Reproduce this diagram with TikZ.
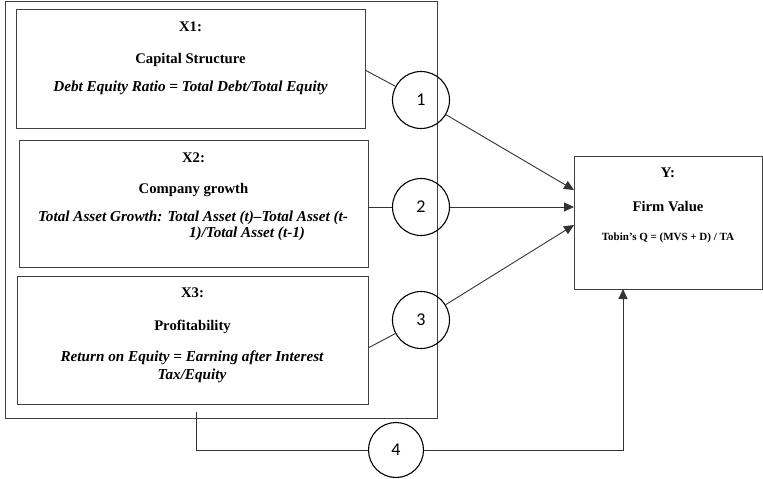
\documentclass[tikz,border=0pt]{standalone}
\usepackage{fontspec}
\setmainfont{Liberation Serif}
\newfontfamily\numfont{Carlito}
\usetikzlibrary{arrows.meta}
\begin{document}
\begin{tikzpicture}[x=1pt,y=-1pt,
  box/.style={draw=black!75,line width=0.9pt,rectangle,inner sep=0pt},
  num/.style={draw=black,line width=1.1pt,circle,minimum size=57pt,inner sep=0pt,font=\numfont\fontsize{18}{20}\selectfont},
  ttl/.style={font=\fontsize{14.7}{17}\selectfont\bfseries},
  frm/.style={font=\fontsize{15.2}{17}\selectfont\bfseries\itshape},
  lnk/.style={draw=black!80,line width=0.9pt},
  arr/.style={lnk,-{Triangle[length=10pt,width=9pt]}}]
\useasboundingbox (0,0) rectangle (763,479);
% outer frame
\node[box,minimum width=432pt,minimum height=417pt] (outer) at (221,209.5) {};
% X boxes
\node[box,minimum width=349pt,minimum height=119pt] (x1) at (190.5,68.5) {};
\node[box,minimum width=349pt,minimum height=127pt] (x2) at (193.5,203.5) {};
\node[box,minimum width=351pt,minimum height=128pt] (x3) at (192.5,340) {};
\node[box,minimum width=188pt,minimum height=133pt] (y) at (668,222.5) {};
% texts X1
\node[ttl] (t1a) at (190.5,27) {X1:};
\node[ttl] (t1b) at (190.5,60) {Capital Structure};
\node[frm] (t1c) at (190.5,88) {Debt Equity Ratio = Total Debt/Total Equity};
% texts X2
\node[ttl] (t2a) at (193.5,158) {X2:};
\node[ttl] (t2b) at (193.5,190) {Company growth};
\node[frm] (t2c) at (193,218) {Total Asset Growth: Total Asset (t)–Total Asset (t-};
\node[frm] (t2d) at (247,234) {1)/Total Asset (t-1)};
% texts X3
\node[ttl] (t3a) at (192.5,293) {X3:};
\node[ttl] (t3b) at (192.5,327) {Profitability};
\node[frm] (t3c) at (192,358) {Return on Equity = Earning after Interest};
\node[frm] (t3d) at (192,376) {Tax/Equity};
% texts Y
\node[ttl] (tya) at (668,173) {Y:};
\node[ttl] (tyb) at (668,207) {Firm Value};
\node[font=\fontsize{11}{13}\selectfont\bfseries] (tyc) at (668,238) {Tobin’s Q = (MVS + D) / TA};
% circles
\node[num] (c1) at (421,100) {1};
\node[num] (c2) at (421,207) {2};
\node[num] (c3) at (421,320) {3};
\node[num,minimum size=55pt] (c4) at (396,450) {4};
% connector end points
\coordinate (a1) at (365,70);
\coordinate (a2) at (368,207);
\coordinate (a3) at (368,348);
\coordinate (a4) at (196,412);
\coordinate (y1) at (574,190);
\coordinate (y2) at (574,207);
\coordinate (y3) at (574,225);
\coordinate (y4) at (623,289);
% connectors
\draw[lnk] (a1) -- (c1);
\draw[arr] (c1) -- (y1);
\draw[lnk] (a2) -- (c2);
\draw[arr] (c2) -- (y2);
\draw[lnk] (a3) -- (c3);
\draw[arr] (c3) -- (y3);
\draw[lnk] (a4) |- (c4);
\draw[arr] (c4) -| (y4);
\end{tikzpicture}
\end{document}
